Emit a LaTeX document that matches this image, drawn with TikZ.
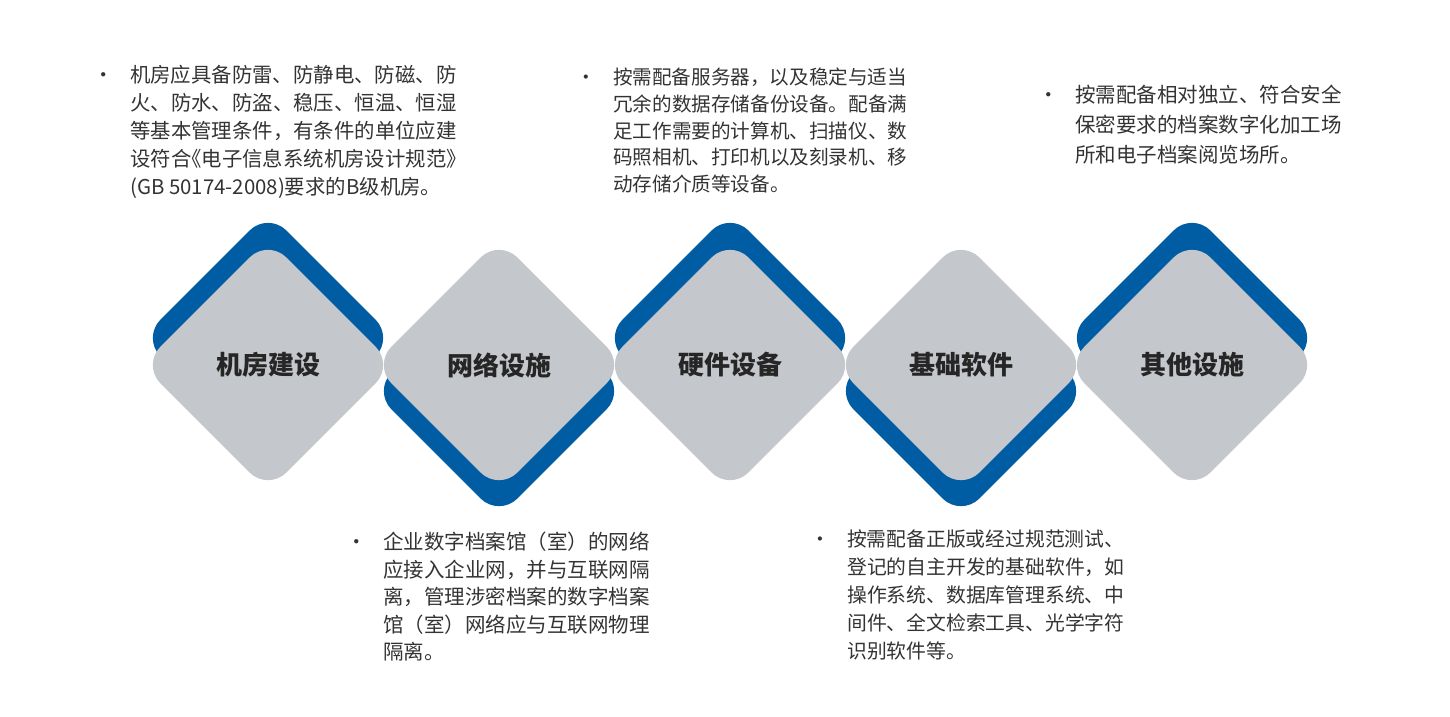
\documentclass[tikz,border=0pt]{standalone}
\usepackage{fontspec}
\setmainfont{Noto Sans CJK SC}
\usepackage{tikz}
\usetikzlibrary{shapes.geometric, positioning}
\definecolor{tilegrey}{RGB}{196, 199, 203}
\definecolor{tileblue}{RGB}{0, 93, 164}
\definecolor{notetext}{RGB}{51, 51, 51}
\definecolor{titletext}{RGB}{38, 38, 38}
\newcommand{\notedot}{\llap{\makebox[37pt][l]{•}}}
\newcommand{\halfopen}{\makebox[0.5em][r]{《}}
\newcommand{\halfclose}{\makebox[0.5em][l]{》}}

\begin{document}
\begin{tikzpicture}[
    x=1pt, y=-1pt,
    tile/.style={diamond, aspect=1, minimum width=252pt, minimum height=252pt, inner sep=0pt, rounded corners=26pt, fill=tilegrey, text=titletext, font=\fontsize{26}{30}\selectfont\bfseries},
    backtile/.style={tile, fill=tileblue},
    note/.style={anchor=north west, align=left, inner sep=0pt, text=notetext},
    notefont/.style 2 args={font=\fontsize{#1}{#2}\selectfont}
]
    \useasboundingbox (0,0) rectangle (1450,716);

    % Blue tiles behind
    \node[backtile] (jifang-back) at (268, 338) {};
    \node[backtile] (wangluo-back) at (499, 391) {};
    \node[backtile] (yingjian-back) at (730, 338) {};
    \node[backtile] (ruanjian-back) at (961, 391) {};
    \node[backtile] (qita-back) at (1192, 338) {};

    % Grey tiles
    \node[tile] (jifang) at (268, 365) {机房建设};
    \node[tile] (wangluo) at (499, 365) {网络设施};
    \node[tile] (yingjian) at (730, 365) {硬件设备};
    \node[tile] (ruanjian) at (961, 365) {基础软件};
    \node[tile] (qita) at (1192, 365) {其他设施};

    % Notes above
    \node[note, notefont={20.4}{28}] (jifang-note) at (130, 65) {\notedot 机房应具备防雷、防静电、防磁、防\\火、防水、防盗、稳压、恒温、恒湿\\等基本管理条件，有条件的单位应建\\设符合\halfopen 电子信息系统机房设计规范\halfclose\\(GB 50174-2008)要求的B级机房。};
    \node[note, notefont={19.6}{26.7}] (yingjian-note) at (613, 68) {\notedot 按需配备服务器，以及稳定与适当\\冗余的数据存储备份设备。配备满\\足工作需要的计算机、扫描仪、数\\码照相机、打印机以及刻录机、移\\动存储介质等设备。};
    \node[note, notefont={20.5}{30}] (qita-note) at (1075, 85) {\notedot 按需配备相对独立、符合安全\\保密要求的档案数字化加工场\\所和电子档案阅览场所。};

    % Notes below
    \node[note, notefont={20.5}{27.5}] (wangluo-note) at (383, 532) {\notedot 企业数字档案馆（室）的网络\\应接入企业网，并与互联网隔\\离，管理涉密档案的数字档案\\馆（室）网络应与互联网物理\\隔离。};
    \node[note, notefont={19.8}{28}] (ruanjian-note) at (847, 530) {\notedot 按需配备正版或经过规范测试、\\登记的自主开发的基础软件，如\\操作系统、数据库管理系统、中\\间件、全文检索工具、光学字符\\识别软件等。};
\end{tikzpicture}
\end{document}
